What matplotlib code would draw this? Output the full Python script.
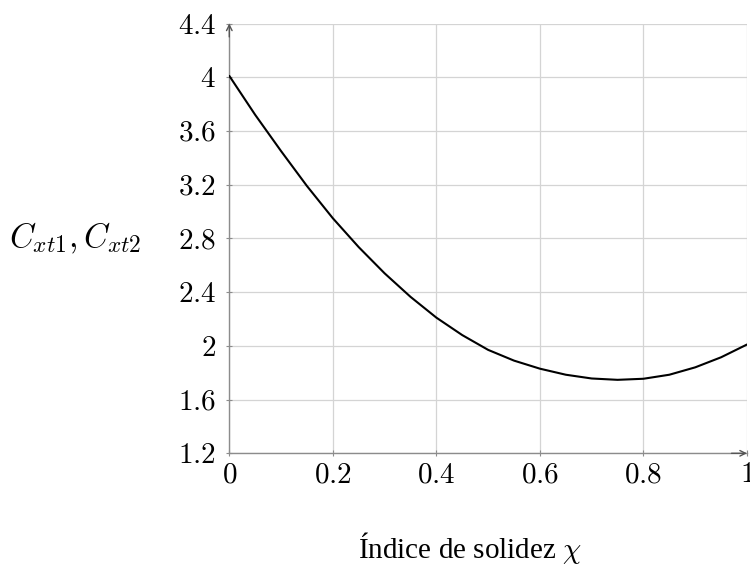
import matplotlib
matplotlib.use("Agg")
import matplotlib.pyplot as plt

plt.rcParams['mathtext.fontset'] = 'cm'
plt.rcParams['font.family'] = ['Liberation Serif', 'DejaVu Serif']

chi = [0.00, 0.05, 0.10, 0.15, 0.20, 0.25, 0.30, 0.35, 0.40, 0.45, 0.50,
       0.55, 0.60, 0.65, 0.70, 0.75, 0.80, 0.85, 0.90, 0.95, 1.00]
cxt = [4.01, 3.72, 3.45, 3.19, 2.95, 2.735, 2.54, 2.365, 2.21, 2.08, 1.97,
       1.89, 1.83, 1.785, 1.757, 1.747, 1.755, 1.785, 1.84, 1.915, 2.01]

xticks = [0, 0.2, 0.4, 0.6, 0.8, 1.0]
xticklabels = ['0', '0.2', '0.4', '0.6', '0.8', '1']
yticks = [1.2, 1.6, 2.0, 2.4, 2.8, 3.2, 3.6, 4.0, 4.4]
yticklabels = ['1.2', '1.6', '2', '2.4', '2.8', '3.2', '3.6', '4', '4.4']

fig = plt.figure(figsize=(7.5, 5.65), dpi=100)
ax = fig.add_axes([229.3/750, 1-453.3/565, (747-229.3)/750, (453.3-23.5)/565])

ax.plot(chi, cxt, color='black', lw=1.5, zorder=3,
        solid_capstyle='round', solid_joinstyle='round')

ax.set_xlim(0, 1)
ax.set_ylim(1.2, 4.4)
ax.set_xticks(xticks)
ax.set_xticklabels(['$' + t + '$' for t in xticklabels], fontsize=21)
ax.set_yticks(yticks)
ax.set_yticklabels(['$' + t + '$' for t in yticklabels], fontsize=21)
ax.grid(True, color='#d4d4d4', lw=0.9)
ax.set_axisbelow(True)
for s in ['top', 'right']:
    ax.spines[s].set_visible(False)
for s in ['left', 'bottom']:
    ax.spines[s].set_color('#8c8c8c')
    ax.spines[s].set_linewidth(1.0)
ax.tick_params(direction='inout', length=5, width=0.8, color='#8c8c8c')
ax.tick_params(axis='y', pad=7)
ax.tick_params(axis='x', pad=4)

# arrowheads
ax.annotate('', xy=(1.0, 1.2), xytext=(0.97, 1.2), xycoords='data',
            arrowprops=dict(arrowstyle='->', color='#555555', lw=1.0,
                            shrinkA=0, shrinkB=0), annotation_clip=False)
ax.annotate('', xy=(0.0, 4.4), xytext=(0.0, 4.3), xycoords='data',
            arrowprops=dict(arrowstyle='->', color='#555555', lw=1.0,
                            shrinkA=0, shrinkB=0), annotation_clip=False)

fig.text(75/750, 1-238/565, r'$C_{xt1}, C_{xt2}$', fontsize=24,
         ha='center', va='center')
fig.text(470/750, 1-548/565, r'Índice de solidez $\chi$', fontsize=21,
         ha='center', va='center')

fig.savefig('out.png', dpi=100)
